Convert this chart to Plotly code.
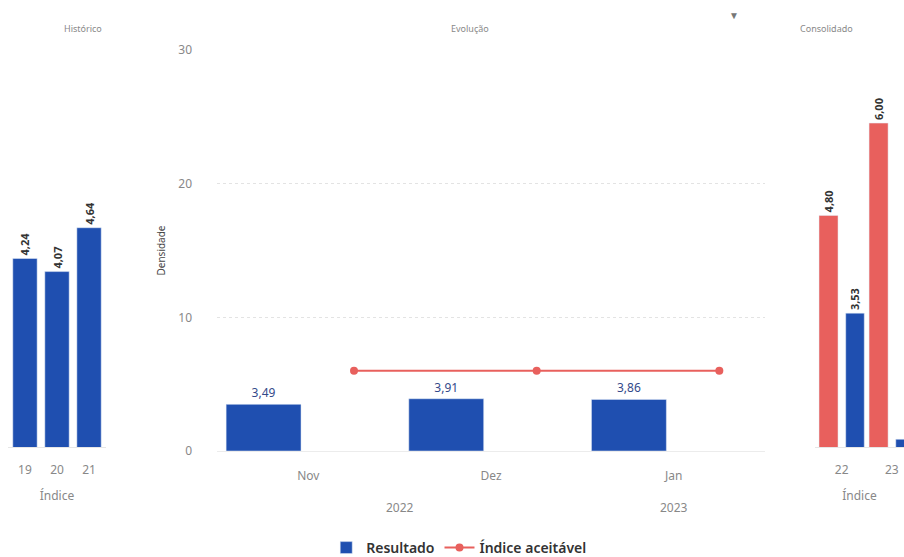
import plotly.graph_objects as go

# ---- data ----
hist_cats = ["19", "20", "21"]
hist_vals = [4.24, 4.07, 4.64]

months = ["Nov", "Dez", "Jan"]
years = ["2022", "2023"]
resultado = [3.49, 3.91, 3.86]
indice_aceitavel = [6, 6, 6]

cons_cats = ["22", "23"]
cons_red = [4.80, 6.00]
cons_blue = [3.53, 1.89]

BLUE = "#1f4fb0"
RED = "#e8605d"
W, H = 904, 557
FONT = "Noto Sans"


def px_x(p):
    return p / W


def px_y(p):
    return 1 - p / H


fig = go.Figure()

# left panel: Histórico
fig.add_trace(go.Bar(
    x=hist_cats, y=hist_vals, width=0.76, marker_color=BLUE, showlegend=False,
    text=hist_vals, texttemplate="%{y:.2f}", textposition="outside", textangle=-90,
    constraintext="none", cliponaxis=False,
    textfont=dict(size=11, color="#333", family=FONT, weight="bold"),
    xaxis="x", yaxis="y", hoverinfo="skip"))

# middle panel: Evolução
fig.add_trace(go.Bar(
    x=months, y=resultado, name="Resultado", marker_color=BLUE,
    offset=-0.45, width=0.41,
    text=resultado, texttemplate="%{y:.2f}", textposition="outside",
    constraintext="none", cliponaxis=False,
    textfont=dict(size=12, color="#34498a", family=FONT),
    xaxis="x2", yaxis="y2"))
fig.add_trace(go.Scatter(
    x=months, y=indice_aceitavel, name="Índice aceitável", mode="lines+markers",
    line=dict(color=RED, width=2), marker=dict(color=RED, size=8),
    xaxis="x3", yaxis="y2", cliponaxis=False))

# right panel: Consolidado
fig.add_trace(go.Bar(
    x=cons_cats, y=cons_red, offset=-0.454, width=0.38, marker_color=RED, showlegend=False,
    text=cons_red, texttemplate="%{y:.2f}", textposition="outside", textangle=-90,
    constraintext="none", cliponaxis=False,
    textfont=dict(size=11, color="#333", family=FONT, weight="bold"),
    xaxis="x4", yaxis="y4", hoverinfo="skip"))
fig.add_trace(go.Bar(
    x=cons_cats, y=cons_blue, offset=0.08, width=0.37, marker_color=BLUE, showlegend=False,
    text=cons_blue, texttemplate="%{y:.2f}", textposition="outside", textangle=-90,
    constraintext="none", cliponaxis=False,
    textfont=dict(size=11, color="#333", family=FONT, weight="bold"),
    xaxis="x4", yaxis="y4", hoverinfo="skip"))

tickfont = dict(size=12, color="#888", family=FONT)
side_y_dom = [px_y(447), px_y(50)]
mid_y_dom = [px_y(451), px_y(50)]

fig.update_layout(
    width=W, height=H,
    margin=dict(l=0, r=0, t=0, b=0, pad=0, autoexpand=False),
    paper_bgcolor="white", plot_bgcolor="white",
    separators=",.",
    font=dict(family=FONT),
    barmode="overlay",
    xaxis=dict(domain=[px_x(8), px_x(106)], type="category", range=[-0.53, 2.53],
               automargin=False,
               showgrid=False, showline=True, linecolor="#e6e6e6", ticks="",
               tickfont=tickfont, ticklabelstandoff=12,
               title=dict(text="Índice", font=dict(size=12, color="#888"), standoff=14)),
    yaxis=dict(domain=side_y_dom, range=[1.79, 6.95], visible=False, automargin=False),
    xaxis2=dict(domain=[px_x(217), px_x(765)], type="category", range=[-0.5, 2.5],
                automargin=False,
                showgrid=False, showline=True, linecolor="#ececec", ticks="",
                tickfont=tickfont, ticklabelstandoff=14, anchor="y2"),
    xaxis3=dict(domain=[px_x(217), px_x(765)], type="category", range=[-0.75, 2.25],
                automargin=False, overlaying="x2", visible=False, anchor="y2"),
    yaxis2=dict(domain=mid_y_dom, range=[0, 30], tickvals=[0, 10, 20, 30],
                automargin=False,
                showgrid=True, gridcolor="#e3e3e3", griddash="dot", zeroline=False,
                tickfont=dict(size=12, color="#888", family=FONT), ticklabelstandoff=24,
                title=dict(text="Densidade", font=dict(size=10, color="#444"), standoff=10),
                anchor="x2"),
    xaxis4=dict(domain=[px_x(815), 1.0], type="category", range=[-0.534, 1.244],
                automargin=False,
                showgrid=False, showline=True, linecolor="#e6e6e6", ticks="",
                tickfont=tickfont, ticklabelstandoff=12, anchor="y4",
                title=dict(text="Índice", font=dict(size=12, color="#888"), standoff=14)),
    yaxis4=dict(domain=side_y_dom, range=[1.79, 6.95], visible=False, anchor="x4",
                automargin=False),
    legend=dict(orientation="h", x=0.508, xanchor="center", y=px_y(548), yanchor="middle",
                font=dict(size=14, color="#333", family=FONT, weight=600),
                itemwidth=30, traceorder="normal"),
    showlegend=True,
)

annos = [
    dict(text="Histórico", x=px_x(62), y=px_y(28)),
    dict(text="Evolução", x=px_x(470), y=px_y(28)),
    dict(text="Consolidado", x=px_x(855), y=px_y(28)),
]
for a in annos:
    fig.add_annotation(xref="paper", yref="paper", showarrow=False, yanchor="middle",
                       font=dict(size=9, color="#888", family=FONT), **a)

fig.add_annotation(xref="paper", yref="paper", x=px_x(741), y=px_y(15), text="▼",
                   showarrow=False, yanchor="middle", font=dict(size=10, color="#777"))

# year labels of the hierarchical axis
for yr, pos in zip(years, [0.5, 2.0]):
    fig.add_annotation(xref="x2", yref="paper", x=pos, y=px_y(507), text=yr,
                       showarrow=False, yanchor="middle",
                       font=dict(size=12, color="#888", family=FONT))

fig.write_html("out.html", config={"displayModeBar": False},
               post_script="document.body.style.margin='0';document.body.style.overflow='hidden';")
